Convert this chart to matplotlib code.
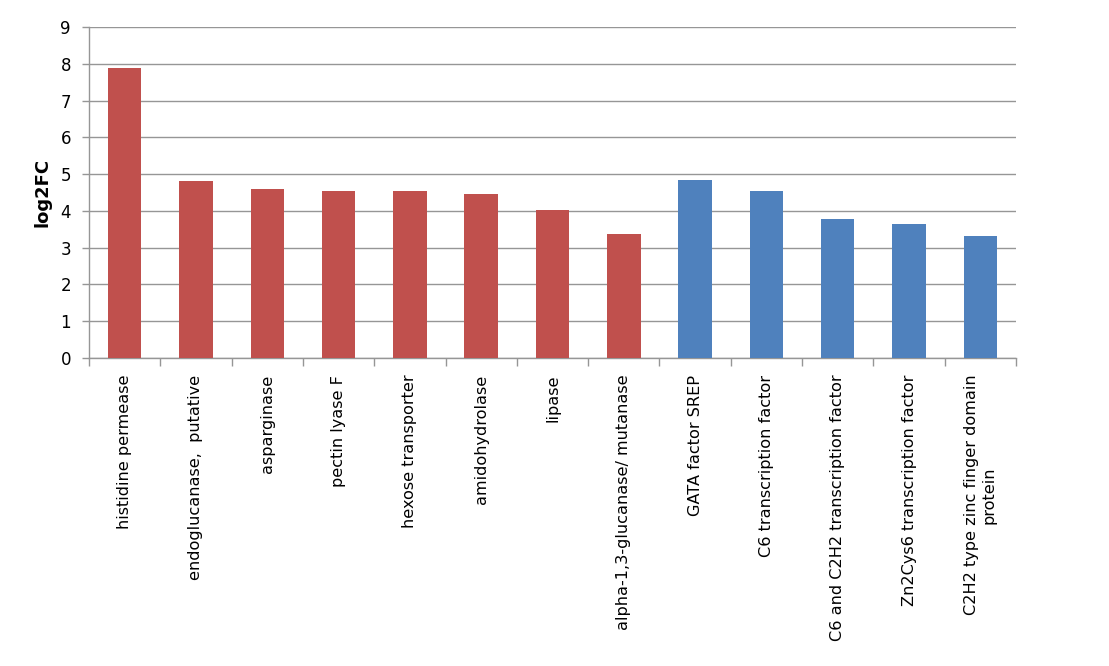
import matplotlib
matplotlib.use("Agg")
import matplotlib.pyplot as plt
import numpy as np

categories = [
    "histidine permease",
    "endoglucanase,  putative",
    "asparginase",
    "pectin lyase F",
    "hexose transporter",
    "amidohydrolase",
    "lipase",
    "alpha-1,3-glucanase/ mutanase",
    "GATA factor SREP",
    "C6 transcription factor",
    "C6 and C2H2 transcription factor",
    "Zn2Cys6 transcription factor",
    "C2H2 type zinc finger domain\nprotein",
]
values = [7.88, 4.81, 4.60, 4.55, 4.55, 4.45, 4.03, 3.37, 4.84, 4.55, 3.79, 3.64, 3.33]
groups = ["enzyme"] * 8 + ["tf"] * 5
group_colors = {"enzyme": "#C0504D", "tf": "#4F81BD"}
yticks = list(range(0, 10))

fig = plt.figure(figsize=(11.09, 6.66), dpi=100)
ax = fig.add_axes([89 / 1109, 1 - 358 / 666, (1016 - 89) / 1109, (358 - 27) / 666])

x = np.arange(len(categories))
ax.bar(x, values, width=0.47, color=[group_colors[g] for g in groups], zorder=3)

ax.set_xlim(-0.5, len(categories) - 0.5)
ax.set_ylim(0, 9)
ax.set_yticks(yticks)
ax.yaxis.grid(True, color="#969696", linewidth=1.0, zorder=0)
ax.set_axisbelow(True)

ax.set_xticks(x)
ax.set_xticklabels(categories, rotation=90, ha="center", va="top",
                   multialignment="center", fontsize=11.6)
ax.tick_params(axis="x", which="major", length=0, pad=12)
ax.set_xticks(np.arange(-0.5, len(categories), 1.0), minor=True)
ax.tick_params(axis="x", which="minor", length=6, color="#969696", width=1)
ax.tick_params(axis="y", length=5, color="#969696", width=1, pad=8, labelsize=12)

for s in ["top", "right"]:
    ax.spines[s].set_visible(False)
for s in ["left", "bottom"]:
    ax.spines[s].set_color("#969696")
    ax.spines[s].set_linewidth(1)

ax.set_ylabel("log2FC", fontsize=13, fontweight="bold", labelpad=6)

fig.savefig("out.png", dpi=100)
